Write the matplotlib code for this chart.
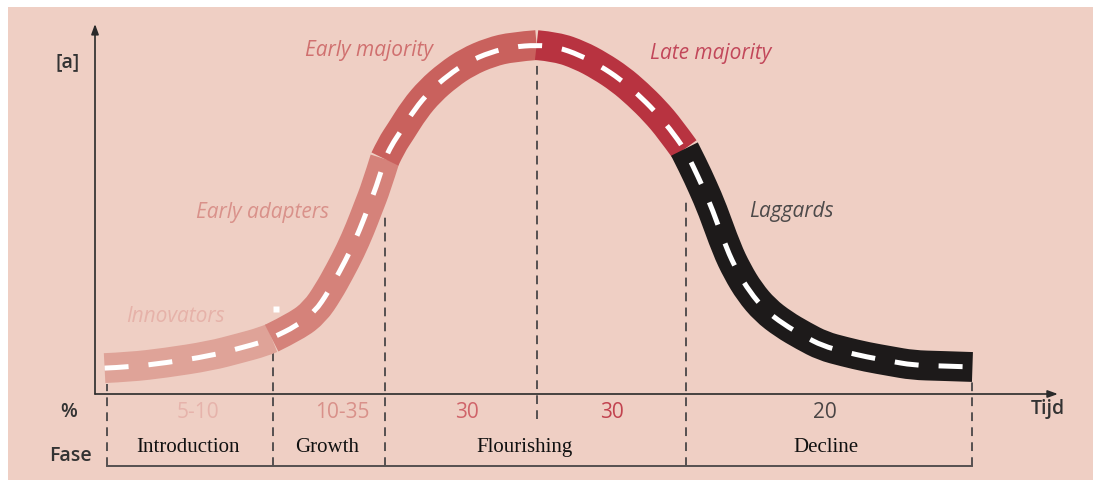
import numpy as np
import matplotlib
matplotlib.use("Agg")
import matplotlib.pyplot as plt
from matplotlib.patches import Rectangle, PathPatch
from matplotlib.path import Path

# ---------------- data ----------------
# adoption curve (time in % of axis, adoption in % of axis)
curve_t = [1.0, 3.6, 7.3, 12.0, 15.1, 17.5, 18.4, 21.0, 22.9, 24.3, 25.5, 26.6, 27.6, 28.4,
           29.3, 30.2, 30.9, 31.8, 33.3, 34.9, 36.8, 38.8, 41.2, 43.5, 46.0, 48.1, 50.5,
           52.6, 54.7, 56.5, 58.3, 59.9, 61.4, 62.3, 63.3, 64.3, 65.8, 66.9, 68.2, 69.8,
           71.7, 73.8, 75.8, 78.1, 80.4, 82.8, 85.2, 88.0, 91.4]
curve_a = [7.0, 7.3, 8.4, 10.3, 12.4, 14.1, 15.1, 18.4, 22.2, 27.6, 33.2, 38.7, 44.6, 50.0,
           56.0, 63.5, 67.3, 70.8, 77.0, 81.9, 86.2, 89.7, 92.4, 93.8, 94.3, 93.8, 91.6,
           88.7, 85.1, 81.1, 76.5, 71.6, 66.2, 61.6, 56.0, 50.0, 39.2, 33.2, 27.6, 22.7,
           18.9, 15.7, 13.0, 11.4, 10.0, 8.9, 7.8, 7.6, 7.3]

groups = ["Innovators", "Early adapters", "Early majority", "Late majority", "Laggards"]
group_breaks = [1.0, 18.4, 30.2, 46.0, 61.4, 91.4]   # curve colour changes
group_colors = ["#dfa398", "#d5827a", "#c9615d", "#b83340", "#1d1a1a"]
group_label_colors = ["#e6b2a9", "#d9918a", "#d0706f", "#c2475a", "#4d4a4a"]

phase_edges = [1.25, 18.54, 30.21, 46.04, 61.56, 91.35]
phase_line_top = [2.7, 11.6, 48.6, 90.0, 53.0, 3.2]
phase_line_bottom = [-19.46, -19.46, -19.46, -6.76, -19.46, -19.46]
percent_labels = ["5-10", "10-35", "30", "30", "20"]
percent_colors = ["#e6b3ab", "#d9918a", "#d0646a", "#c2434f", "#4a4545"]
fase_labels = ["Introduction", "Growth", "Flourishing", "Decline"]

# ---------------- layout ----------------
W, H = 1093, 481
fig = plt.figure(figsize=(W / 100, H / 100), dpi=100)
fig.patch.set_facecolor("white")
fig.add_artist(Rectangle((8 / W, 0), 1 - 8 / W, 1 - 8 / H, transform=fig.transFigure,
                         facecolor="#efcfc4", edgecolor="none", zorder=0))

ax = fig.add_axes([0, 0, 1, 1])
ax.set_facecolor("none")
# axis origin at pixel (95, 395); 9.6 px per time unit, 3.7 px per adoption unit
ax.set_xlim(-95 / 9.6, (W - 95) / 9.6)
ax.set_ylim((395 - H) / 3.7, 395 / 3.7)
ax.axis("off")

axis_col = "#2a2a2a"
ax.annotate("", xy=(0, 100.0), xytext=(0, 0),
            arrowprops=dict(arrowstyle="-|>,head_length=0.6,head_width=0.22", lw=1.2,
                            color=axis_col, shrinkA=0, shrinkB=0))
ax.annotate("", xy=(100.3, 0), xytext=(0, 0),
            arrowprops=dict(arrowstyle="-|>,head_length=0.6,head_width=0.22", lw=1.2,
                            color=axis_col, shrinkA=0, shrinkB=0))

# phase dashed lines
for x, top, bot in zip(phase_edges, phase_line_top, phase_line_bottom):
    ax.plot([x, x], [bot, top], color="#555050", lw=1.4, ls=(0, (4.5, 3.2)), zorder=2)
ax.plot([phase_edges[0], phase_edges[-1]], [-19.46, -19.46], color="#555050", lw=1.4, zorder=2)


def smooth_path(xs, ys):
    """Quadratic Bezier path using the read points as control points."""
    pts = np.column_stack([xs, ys])
    verts = [pts[0]]
    codes = [Path.MOVETO]
    for i in range(1, len(pts) - 1):
        mid = (pts[i] + pts[i + 1]) / 2 if i < len(pts) - 2 else pts[i + 1]
        verts += [pts[i], mid]
        codes += [Path.CURVE3, Path.CURVE3]
    if len(pts) == 2:
        verts.append(pts[1])
        codes.append(Path.LINETO)
    return Path(verts, codes)


t = np.array(curve_t)
a = np.array(curve_a)
for i, col in enumerate(group_colors):
    lo, hi = group_breaks[i], group_breaks[i + 1]
    m = (t >= lo - 1e-9) & (t <= hi + 1e-9)
    ax.add_patch(PathPatch(smooth_path(t[m], a[m]), facecolor="none", edgecolor=col,
                           lw=21.5, capstyle="butt", joinstyle="round", zorder=3))
ax.add_patch(PathPatch(smooth_path(t, a), facecolor="none", edgecolor="white",
                       lw=3.6, ls=(0, (4.8, 4.0)), capstyle="butt", zorder=4))

# small white square
ax.plot([18.85], [23.0], marker="s", ms=5, color="white", mec="none", zorder=4)

# group labels
group_label_pos = [(8.4, 21.1), (17.45, 49.2), (28.5, 93.0), (64.1, 92.4), (72.5, 49.5)]
for name, (x, y), col in zip(groups, group_label_pos, group_label_colors):
    ax.text(x, y, name, color=col, fontsize=15, style="italic", family="Open Sans",
            ha="center", va="center", zorder=5)

# percent row and phase row
pct_x = [10.73, 25.73, 38.75, 53.85, 76.04]
for s, x, col in zip(percent_labels, pct_x, percent_colors):
    ax.text(x, -4.6, s, color=col, fontsize=15, family="Open Sans",
            ha="center", va="center")
fase_x = [9.64, 24.22, 44.79, 76.15]
for s, x in zip(fase_labels, fase_x):
    ax.text(x, -14.3, s, color="#111111", fontsize=15, family="Liberation Serif",
            ha="center", va="center")

lab_kw = dict(color="#333333", fontsize=14, family="Open Sans", weight="semibold",
              ha="center", va="center")
ax.text(-2.86, 89.9, "[a]", **lab_kw)
ax.text(-2.71, -4.6, "%", **lab_kw)
ax.text(-2.6, -16.5, "Fase", **lab_kw)
ax.text(99.27, -3.8, "Tijd", **lab_kw)

fig.savefig("out.png", dpi=100)
